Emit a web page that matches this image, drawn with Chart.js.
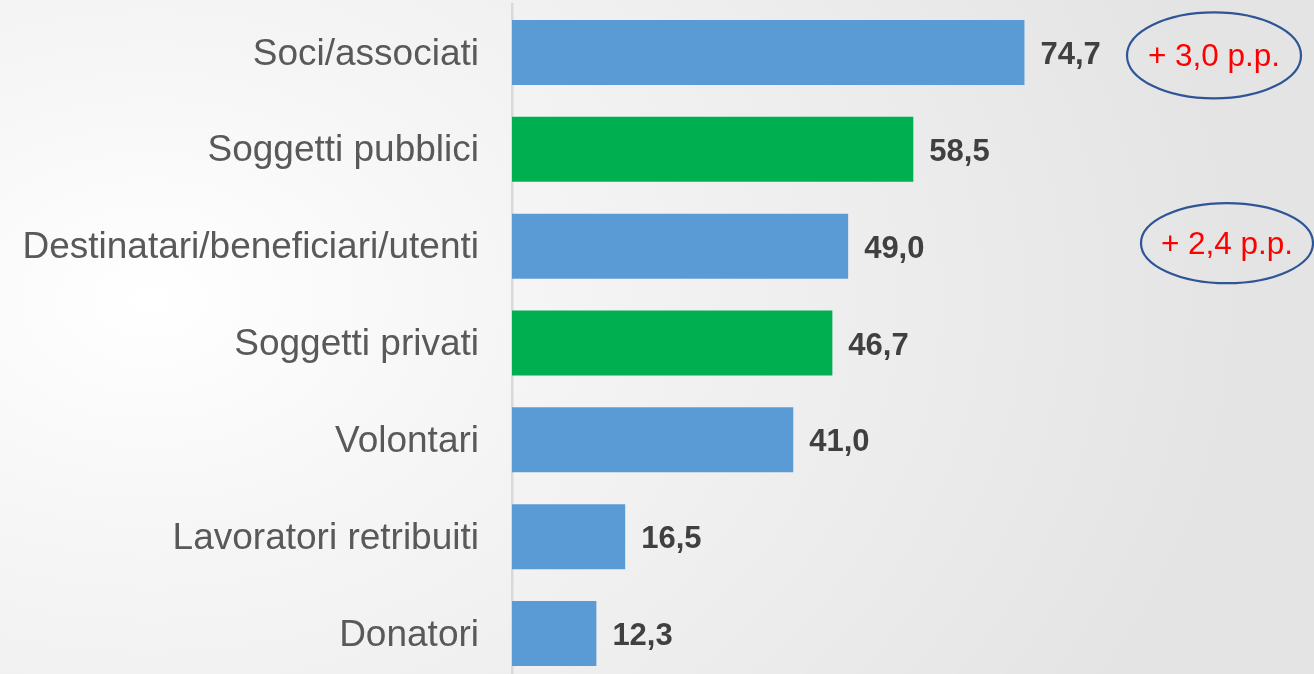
<!DOCTYPE html>
<html lang="it">
<head>
<meta charset="utf-8">
<script src="https://cdn.jsdelivr.net/npm/chart.js@4.4.1/dist/chart.umd.min.js"></script>
<style>
  html, body { margin: 0; padding: 0; width: 1314px; height: 674px; overflow: hidden; }
  body { background: radial-gradient(ellipse 1100px 800px at 150px 300px, #ffffff 0%, #f6f6f6 30%, #ececec 70%, #e4e4e4 100%); }
  #wrap { position: relative; width: 1314px; height: 682px; }
</style>
</head>
<body>
<div id="wrap"><canvas id="chart"></canvas></div>
<script>
// dati
const CATEGORIE = ['Soci/associati', 'Soggetti pubblici', 'Destinatari/beneficiari/utenti',
  'Soggetti privati', 'Volontari', 'Lavoratori retribuiti', 'Donatori'];
const VALORI = [74.7, 58.5, 49.0, 46.7, 41.0, 16.5, 12.3];
const GRUPPO = ['blu', 'verde', 'blu', 'verde', 'blu', 'blu', 'blu'];
// variazioni evidenziate (indice categoria -> testo)
const VARIAZ_IDX = [0, 2];
const VARIAZ_TESTO = ['+ 3,0 p.p.', '+ 2,4 p.p.'];

const COR = {
  blu: '#5b9bd5',
  verde: '#00b050',
  label: '#595959',
  valore: '#404040',
  asse: '#d9d9d9',
  ellisse: '#2f5597',
  rosso: '#ff0000',
};

const fmt = v => v.toFixed(1).replace('.', ',');

// etichette valore a destra delle barre
const valoriPlugin = {
  id: 'valori',
  afterDatasetsDraw(chart) {
    const { ctx } = chart;
    const meta = chart.getDatasetMeta(0);
    ctx.save();
    ctx.font = 'bold 31px "Liberation Sans", Arial, sans-serif';
    ctx.fillStyle = COR.valore;
    ctx.textAlign = 'left';
    ctx.textBaseline = 'middle';
    meta.data.forEach((bar, i) => {
      ctx.fillText(fmt(VALORI[i]), bar.x + 16, bar.y + 3);
    });
    ctx.restore();
  }
};

// ellissi con variazione in punti percentuali
const variazPlugin = {
  id: 'variaz',
  afterDraw(chart) {
    const { ctx } = chart;
    const y = chart.scales.y;
    const offX = [1214, 1227];
    const offY = [3, -3];
    const rx = [87, 86];
    const ry = [43, 40];
    ctx.save();
    VARIAZ_IDX.forEach((idx, k) => {
      const cy = y.getPixelForValue(idx) + offY[k];
      const cx = offX[k];
      ctx.beginPath();
      ctx.ellipse(cx, cy, rx[k], ry[k], 0, 0, Math.PI * 2);
      ctx.lineWidth = 2.2;
      ctx.strokeStyle = COR.ellisse;
      ctx.stroke();
      ctx.font = '31.5px "Liberation Sans", Arial, sans-serif';
      ctx.fillStyle = COR.rosso;
      ctx.textAlign = 'center';
      ctx.textBaseline = 'middle';
      ctx.fillText(VARIAZ_TESTO[k], cx, cy + 2);
    });
    ctx.restore();
  }
};

new Chart(document.getElementById('chart'), {
  type: 'bar',
  data: {
    labels: CATEGORIE,
    datasets: [{
      data: VALORI,
      backgroundColor: GRUPPO.map(g => COR[g]),
      borderWidth: 0,
      barPercentage: 0.671,
      categoryPercentage: 1,
    }]
  },
  options: {
    indexAxis: 'y',
    responsive: true,
    maintainAspectRatio: false,
    animation: false,
    layout: { padding: { top: 4, right: 116, bottom: 0, left: 0 } },
    plugins: { legend: { display: false }, tooltip: { enabled: false } },
    scales: {
      x: {
        display: false,
        min: 0,
        max: 100,
      },
      y: {
        afterFit: s => {
          s.width = 512;
          // niente margine extra sopra/sotto per le etichette
          s.paddingTop = 0;
          s.paddingBottom = 0;
        },
        grid: { display: false, drawTicks: false },
        border: { display: true, color: COR.asse, width: 2.5 },
        ticks: {
          padding: 33,
          labelOffset: 2,
          color: COR.label,
          font: { family: '"Liberation Sans", Arial, sans-serif', size: 37 },
        }
      }
    }
  },
  plugins: [valoriPlugin, variazPlugin]
});
</script>
</body>
</html>
